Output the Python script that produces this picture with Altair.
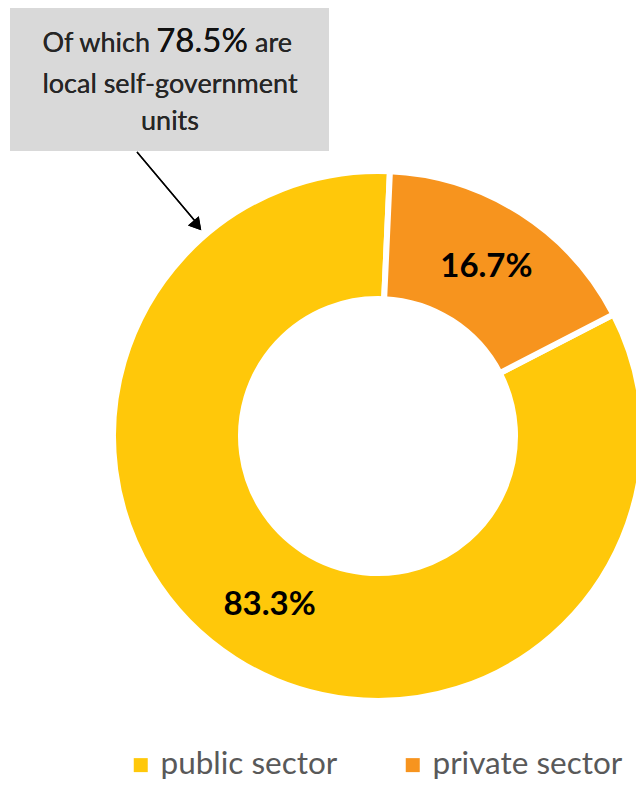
import math
import altair as alt
import pandas as pd

sectors = ["public sector", "private sector"]
shares = [83.3, 16.7]
labels = ["83.3%", "16.7%"]
stack_order = [2, 1]
colors = ["#FFC80A", "#F7941E"]

df = pd.DataFrame({"sector": sectors, "share": shares, "label": labels, "ord": stack_order})

off = 0.045
theta_scale = alt.Scale(range=[off, off + 2 * math.pi])
CX, CY = 370, 428

base = alt.Chart(df).encode(
    theta=alt.Theta("share:Q", stack=True, scale=theta_scale),
    order=alt.Order("ord:Q"),
)

arcs = base.mark_arc(innerRadius=137, outerRadius=265, stroke="white", strokeWidth=6).encode(
    x=alt.value(CX), y=alt.value(CY),
    color=alt.Color("sector:N", scale=alt.Scale(domain=sectors, range=colors),
                    legend=alt.Legend(title=None, orient="none", legendX=117, legendY=741,
                                      direction="horizontal", symbolType="square",
                                      symbolSize=196, labelFontSize=31.5, labelFont="Lato",
                                      labelColor="#595959", labelLimit=0, columnPadding=59,
                                      symbolStrokeWidth=0, labelOffset=4, padding=0)),
)

texts = base.mark_text(radius=201, font="Lato", fontWeight="bold", fontSize=33, color="black").encode(
    x=alt.value(CX), y=alt.value(CY), text="label:N",
)

box = alt.Chart(df).mark_rect(color="#D9D9D9").encode(
    x=alt.value(2), x2=alt.value(321), y=alt.value(-2), y2=alt.value(143)
)

tf = dict(font="Lato", fontSize=27, color="#262626", baseline="alphabetic")
t1 = alt.Chart(df).mark_text(align="right", **tf).encode(x=alt.value(142), y=alt.value(44), text=alt.value("Of which"))
t2 = alt.Chart(df).mark_text(align="center", font="Lato", fontSize=33, color="#111111", baseline="alphabetic").encode(
    x=alt.value(194), y=alt.value(44), text=alt.value("78.5%"))
t3 = alt.Chart(df).mark_text(align="left", **tf).encode(x=alt.value(247), y=alt.value(44), text=alt.value("are"))
t4 = alt.Chart(df).mark_text(align="center", **tf).encode(x=alt.value(162), y=alt.value(85), text=alt.value("local self-government"))
t5 = alt.Chart(df).mark_text(align="center", **tf).encode(x=alt.value(162), y=alt.value(122), text=alt.value("units"))

arrow_line = alt.Chart(df).mark_rule(color="black", strokeWidth=1.3).encode(
    x=alt.value(129), y=alt.value(144), x2=alt.value(187), y2=alt.value(213))
arrow_head = alt.Chart(df).mark_point(shape="triangle", filled=True, color="black", size=200, angle=140, opacity=1).encode(
    x=alt.value(188), y=alt.value(216))

chart = alt.layer(box, t1, t2, t3, t4, t5, arrow_line, arrow_head, arcs, texts).properties(
    width=628, height=776, padding=0, autosize=alt.AutoSizeParams(type="none")
).configure_view(stroke=None)

chart.save("out.html", embed_options={"renderer": "svg", "actions": False})
